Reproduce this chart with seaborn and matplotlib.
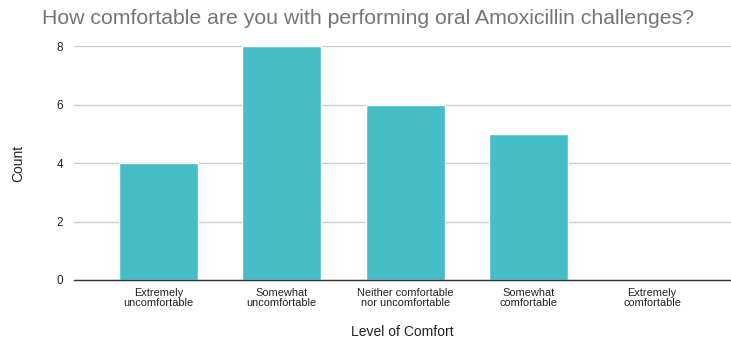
import matplotlib
matplotlib.use("Agg")
import matplotlib.pyplot as plt
import seaborn as sns
import pandas as pd

categories = [
    "Extremely\nuncomfortable",
    "Somewhat\nuncomfortable",
    "Neither comfortable\nnor uncomfortable",
    "Somewhat\ncomfortable",
    "Extremely\ncomfortable",
]
counts = [4, 8, 6, 5, 0]
y_ticks = [0, 2, 4, 6, 8]

sns.set_theme(style="white")
plt.rcParams["font.family"] = ["Liberation Sans", "DejaVu Sans"]

df = pd.DataFrame({"Level of Comfort": categories, "Count": counts})

fig = plt.figure(figsize=(7.31, 3.41), dpi=100)
ax = fig.add_axes([74 / 731, 61 / 341, 1 - 74 / 731, 234 / 341])

sns.barplot(data=df, x="Level of Comfort", y="Count", color="#46BDC6",
            width=0.64, saturation=1, ax=ax, zorder=3)

ax.set_xlim(-0.684, 4.64)
ax.set_ylim(0, 8)
ax.set_yticks(y_ticks)
ax.yaxis.grid(True, color="#CCCCCC", linewidth=1, zorder=0)
ax.set_axisbelow(True)
for side in ["top", "right", "left"]:
    ax.spines[side].set_visible(False)
ax.spines["bottom"].set_color("#333333")
ax.spines["bottom"].set_linewidth(1)
ax.spines["bottom"].set_zorder(4)

ax.tick_params(axis="x", length=0, pad=6, labelsize=7.9, labelcolor="#222222")
ax.tick_params(axis="y", length=0, pad=8, labelsize=8.5, labelcolor="#222222")
for lbl in ax.get_xticklabels():
    lbl.set_linespacing(0.95)

ax.set_xlabel("Level of Comfort", fontsize=10, color="#222222")
ax.xaxis.set_label_coords(0.5, (61 - 52) / 234 * -1 - (52 - 9) / 234, transform=ax.transAxes)
ax.xaxis.label.set_va("center")
ax.set_ylabel("Count", fontsize=10, color="#222222", labelpad=22)

fig.text(42 / 731, 1 - 18 / 341, "How comfortable are you with performing oral Amoxicillin challenges?",
         fontsize=15.3, color="#757575", ha="left", va="center")

fig.savefig("out.png", dpi=100)
